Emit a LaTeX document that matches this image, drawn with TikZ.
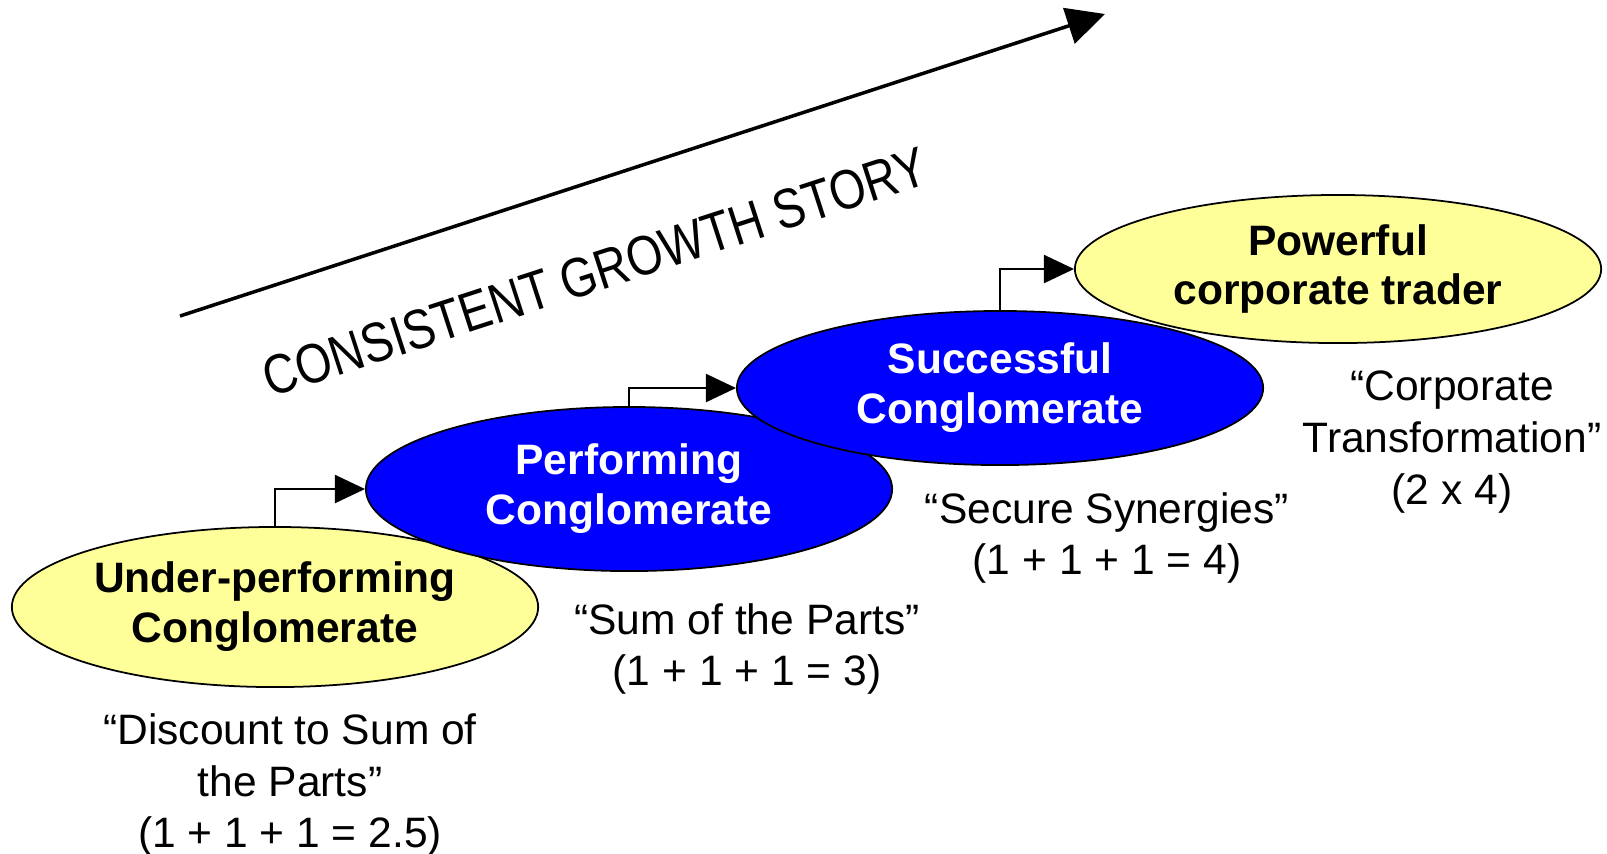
\documentclass[tikz,border=0pt]{standalone}
\usepackage{fontspec}
\setmainfont{Liberation Sans}
\usetikzlibrary{arrows.meta,shapes.geometric}
\definecolor{paleyellow}{RGB}{255,255,153}
\definecolor{stageblue}{RGB}{0,0,255}

\begin{document}
\begin{tikzpicture}[x=0.01cm, y=-0.01cm,
		stage/.style={ellipse, draw, line width=0.5pt, inner sep=0pt, minimum width=5.26cm, align=center, font=\bfseries\fontsize{12.1}{14.2}\selectfont},
		dull/.style={stage, fill=paleyellow, text=black},
		bright/.style={stage, fill=stageblue, text=white},
		caption/.style={align=center, font=\fontsize{12.1}{14.7}\selectfont},
		stepline/.style={-{Triangle[length=0.3cm, width=0.28cm]}, line width=0.6pt}]
		\useasboundingbox (0, 0) rectangle (1607, 853);
		
		\draw node[dull, minimum height=1.48cm] at (1338, 269) (trader) {Powerful\\corporate trader};
		\draw node[dull, minimum height=1.6cm] at (275, 607) (under) {Under-performing\\Conglomerate};
		\draw node[bright, minimum height=1.64cm] at (629, 489) (performing) {Performing\\Conglomerate};
		\draw node[bright, minimum height=1.54cm] at (1000, 388) (successful) {Successful\\Conglomerate};
		
		\draw node[caption] at (290, 785) (discount) {“Discount to Sum of\\the Parts”\\(1 + 1 + 1 = 2.5)};
		\draw node[caption] at (747, 649) (sumparts) {“Sum of the Parts”\\(1 + 1 + 1 = 3)};
		\draw node[caption] at (1107, 538) (synergies) {“Secure Synergies”\\(1 + 1 + 1 = 4)};
		\draw node[caption] at (1452, 442) (transform) {“Corporate\\Transformation”\\(2 x 4)};
		
		\draw [stepline] (under.north) |- (performing.west);
		\draw [stepline] (performing.north) |- (successful.west);
		\draw [stepline] (successful.north) |- (trader.west);
		
		\coordinate (storystart) at (180, 316);
		\coordinate (storyend) at (1105, 14);
		\draw [-{Triangle[length=0.38cm, width=0.37cm]}, line width=1pt] (storystart) -- (storyend);
		\draw node[rotate=18, yscale=1.2, font=\fontsize{13.2}{15}\selectfont] at (595, 272) (story) {CONSISTENT GROWTH STORY};
	\end{tikzpicture}
\end{document}
